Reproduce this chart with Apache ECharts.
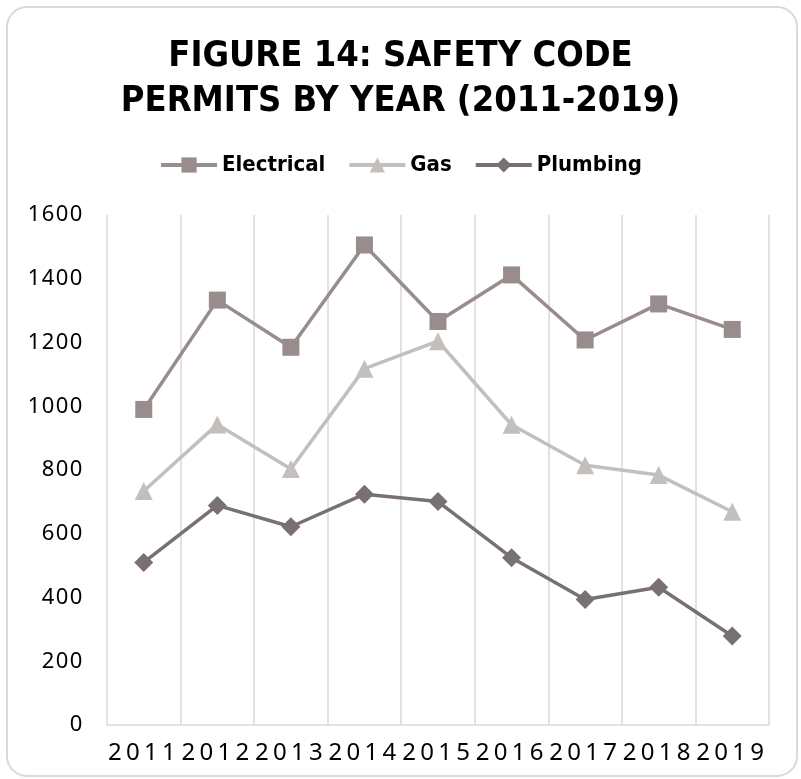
<!DOCTYPE html>
<html>
<head>
<meta charset="utf-8">
<title>Safety Code Permits by Year</title>
<script src="https://cdn.jsdelivr.net/npm/echarts@6/dist/echarts.min.js"></script>
<style>
  html, body { margin: 0; padding: 0; background: #ffffff; }
  #chart { width: 801px; height: 779px; }
</style>
</head>
<body>
<div id="chart"></div>
<script>
// Permit counts per year, by permit type
const years = ['2011', '2012', '2013', '2014', '2015', '2016', '2017', '2018', '2019'];
const electrical = [990, 1333, 1185, 1506, 1266, 1412, 1208, 1321, 1241];
const gas = [734, 943, 803, 1118, 1204, 942, 815, 784, 669];
const plumbing = [510, 689, 622, 724, 701, 525, 394, 432, 279];
const yTicks = { min: 0, max: 1600, interval: 200 };

const labelFont = "'Noto Sans', 'DejaVu Sans', sans-serif";
const condensedFont = "'Liberation Sans Narrow', 'DejaVu Sans Condensed', 'Roboto', sans-serif";

// Spread the digits of an axis label across fixed-width slots
function spaced(value) {
  return String(value).split('').map(c => '{d|' + c + '}').join('');
}

const chart = echarts.init(document.getElementById('chart'), null, { renderer: 'canvas' });

function lineSeries(name, data, color, symbol, size) {
  return {
    name: name,
    type: 'line',
    data: data,
    symbol: symbol,
    symbolSize: size,
    lineStyle: { color: color, width: 3.5 },
    itemStyle: { color: color },
    emphasis: { disabled: true },
    animation: false
  };
}

chart.setOption({
  backgroundColor: '#ffffff',
  graphic: [{
    type: 'rect',
    shape: { x: 7, y: 7, width: 790, height: 769, r: 20 },
    style: { fill: 'none', stroke: '#d9d9d9', lineWidth: 2 },
    silent: true,
    z: -1
  }],
  title: {
    text: 'FIGURE 14: SAFETY CODE\nPERMITS BY YEAR (2011-2019)',
    left: 'center',
    top: 29,
    textStyle: {
      fontFamily: condensedFont,
      fontWeight: 'bold',
      fontSize: 36,
      lineHeight: 45,
      color: '#000000'
    }
  },
  legend: {
    top: 149,
    left: 'center',
    itemWidth: 56,
    itemHeight: 19,
    itemGap: 22,
    lineStyle: { width: 4 },
    textStyle: {
      fontFamily: condensedFont,
      fontWeight: 'bold',
      fontSize: 22,
      color: '#000000'
    },
    data: ['Electrical', 'Gas', 'Plumbing']
  },
  grid: { left: 107, right: 32, top: 215, bottom: 54 },
  xAxis: {
    type: 'category',
    data: years,
    boundaryGap: true,
    axisLine: { show: true, lineStyle: { color: '#d9d9d9', width: 1.5 } },
    axisTick: { show: false },
    splitLine: { show: true, lineStyle: { color: '#d9d9d9', width: 1.5 } },
    axisLabel: {
      margin: 16,
      interval: 0,
      padding: [0, 4, 0, 0],
      formatter: spaced,
      rich: {
        d: { width: 18, align: 'center', fontSize: 24, fontFamily: labelFont, color: '#000000' }
      }
    }
  },
  yAxis: {
    type: 'value',
    min: yTicks.min,
    max: yTicks.max,
    interval: yTicks.interval,
    axisLine: { show: false },
    axisTick: { show: false },
    splitLine: { show: false },
    axisLabel: {
      margin: 24,
      formatter: spaced,
      rich: {
        d: { width: 14, align: 'center', fontSize: 22, fontFamily: labelFont, color: '#000000' }
      }
    }
  },
  series: [
    lineSeries('Electrical', electrical, '#988d8c', 'rect', 17),
    lineSeries('Gas', gas, '#c3bfbd', 'triangle', 18),
    lineSeries('Plumbing', plumbing, '#797072', 'diamond', 19)
  ],
  animation: false
});
</script>
</body>
</html>
